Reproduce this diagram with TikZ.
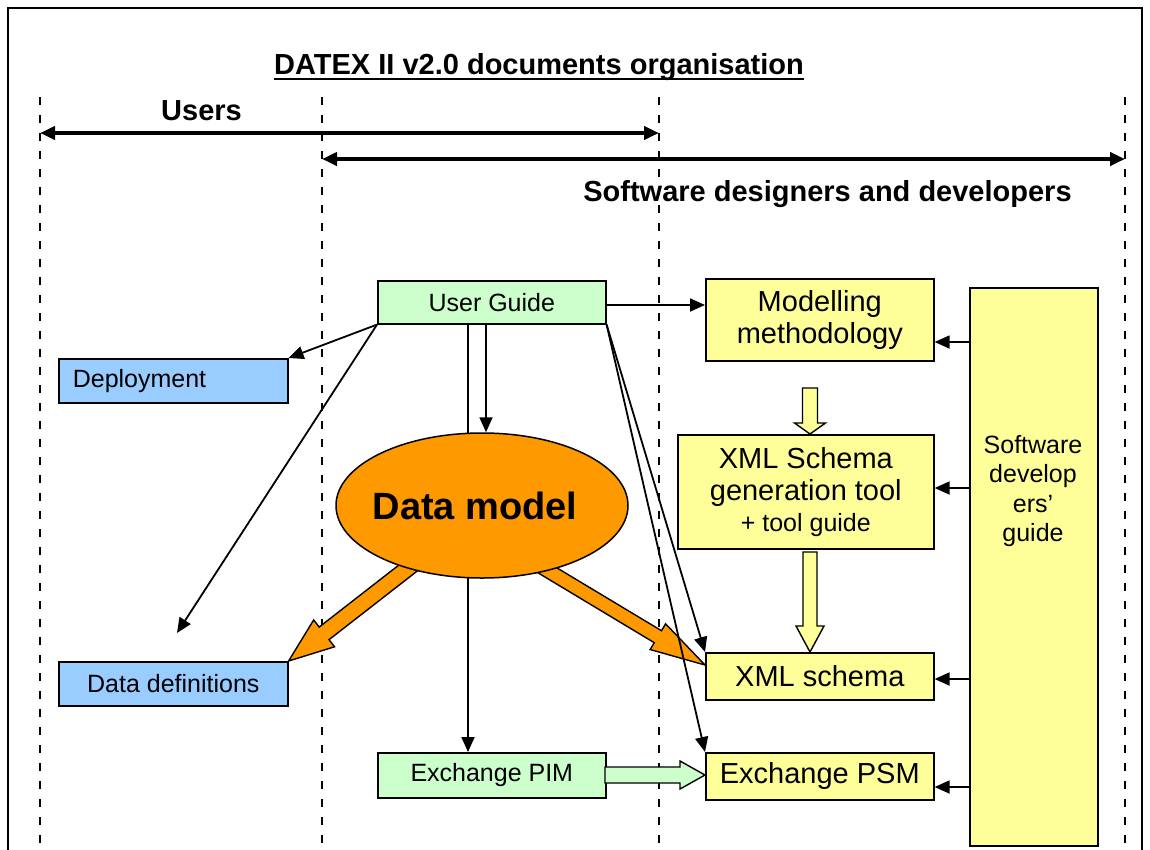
\documentclass[tikz,border=0pt]{standalone}
\usepackage{fontspec}
\setmainfont{Liberation Sans}
\usetikzlibrary{arrows.meta,shapes.geometric,calc}
\definecolor{ugreen}{HTML}{CCFFCC}
\definecolor{ublue}{HTML}{99CCFF}
\definecolor{uyellow}{HTML}{FFFF99}
\definecolor{dmorange}{HTML}{FF9900}
% #1 tip, #2 angle, #3 total length, #4 head length, #5 head half width, #6 shaft half width, #7 fill
\newcommand{\blockarr}[7]{%
  \draw[line width=1.4pt, fill=#7, shift={#1}, rotate=#2]
    (0,0) -- (-#4,#5) -- (-#4,#6) -- (-#3,#6) -- (-#3,-#6) -- (-#4,-#6) -- (-#4,-#5) -- cycle;}
\begin{document}
\begin{tikzpicture}[x=1pt,y=-1pt,
  box/.style={draw=black, line width=1.6pt, inner sep=0pt, anchor=north west, align=center},
  small/.style={font=\fontsize{25}{29.5}\selectfont},
  big/.style={font=\fontsize{29}{32.5}\selectfont},
  head/.style={font=\bfseries\fontsize{29}{32}\selectfont, inner sep=0pt, anchor=base},
  arr/.style={line width=1.8pt, -{Triangle[length=15pt,width=13pt]}},
  toparr/.style={line width=4pt, {Triangle[length=15pt,width=13pt]}-{Triangle[length=15pt,width=13pt]}},
  dashline/.style={line width=2.5pt, dash pattern=on 8pt off 10pt}]
\useasboundingbox (0,0) rectangle (1150,849);
% frame
\draw[line width=1.6pt] (8,860) -- (8,8) -- (1142,8) -- (1142,860);
% dashed separators
\foreach \xx in {40,322,659,1125} \draw[dashline] (\xx,97) -- (\xx,849);
% titles
\node[head] (title) at (539,74) {DATEX II v2.0 documents organisation};
\draw[line width=2.7pt] ($(title.base west)+(0,5)$) -- ($(title.base east)+(0,5)$);
\node[head] (users) at (201.5,120) {Users};
\node[head] (sdd) at (827.5,201) {Software designers and developers};
\coordinate (u1) at (40,133); \coordinate (u2) at (659,133);
\coordinate (s1) at (322,159); \coordinate (s2) at (1125,159);
\draw[toparr] (u1) -- (u2);
\draw[toparr] (s1) -- (s2);
% boxes
\node[box, fill=ugreen, minimum width=228pt, minimum height=43pt, small] (ug) at (377,280) {User Guide};
\node[box, fill=ublue, minimum height=44pt, small, inner xsep=14pt, text width=201pt, align=left] (dep) at (58,358) {Deployment};
\node[box, fill=ublue, minimum width=229pt, minimum height=44pt, small] (dd) at (58,661) {Data definitions};
\node[box, fill=ugreen, minimum width=228pt, minimum height=45pt, small] (pim) at (377,752) {Exchange PIM};
\node[box, fill=uyellow, minimum width=228pt, minimum height=82pt, big] (mm) at (705,278) {\raisebox{-3pt}{Modelling}\\\raisebox{-3pt}{methodology}};
\node[box, fill=uyellow, minimum width=256pt, minimum height=114pt, big] (xg) at (677,434) {\raisebox{-2pt}{XML Schema}\\\raisebox{-2pt}{generation tool}\\{\fontsize{25}{29}\selectfont + tool guide}};
\node[box, fill=uyellow, minimum width=228pt, minimum height=47pt, big] (xmls) at (705,652) {XML schema};
\node[box, fill=uyellow, minimum width=228pt, minimum height=47pt, big] (psm) at (705,752) {Exchange PSM};
\node[box, fill=uyellow, minimum width=128pt, minimum height=558pt] (sdg) at (969,287) {};
\node[small, align=center, inner sep=0pt] (sdgt) at (1033,491) {Software\\develop\\ers’\\guide};
% orange block arrows (behind ellipse)
\blockarr{(dd.north east)}{217.9}{165}{45}{17}{8}{dmorange}
\blockarr{($(xmls.north west)+(0,13)$)}{-31}{190}{55}{15}{7}{dmorange}
% line to Exchange PIM (behind ellipse)
\draw[arr] (ug.south -| 468,0) -- (pim.north -| 468,0);
% data model
\node[ellipse, draw, line width=1.5pt, fill=dmorange, minimum width=292pt, minimum height=145pt, inner sep=0pt, font=\bfseries\fontsize{38}{40}\selectfont] (dm) at (482,505.5) {\hspace*{-14pt}Data model};
\draw[arr] (ug.south -| 486,0) -- (dm.north -| 486,0);
% other connectors
\coordinate (free) at (177,633);
\draw[arr] (ug.south west) -- (dep.north east);
\draw[arr] (ug.south west) -- (free);
\draw[arr] (ug.south east) -- (xmls.north west);
\draw[arr] (ug.south east) -- (psm.north west);
\draw[arr] (ug.east |- 0,305) -- (mm.west |- 0,305);
\draw[arr] (sdg.west |- 0,342) -- (mm.east |- 0,342);
\draw[arr] (sdg.west |- 0,488) -- (xg.east |- 0,488);
\draw[arr] (sdg.west |- 0,679) -- (xmls.east |- 0,679);
\draw[arr] (sdg.west |- 0,787) -- (psm.east |- 0,787);
% hollow block arrows
\blockarr{($(xg.north west)+(133,0)$)}{-90}{46}{11}{15.5}{7.5}{uyellow}
\blockarr{($(xmls.north west)+(105,0)$)}{-90}{100}{26}{14}{7}{uyellow}
\blockarr{(psm.west |- 0,775)}{0}{100}{25}{14}{8}{ugreen}
\end{tikzpicture}
\end{document}
